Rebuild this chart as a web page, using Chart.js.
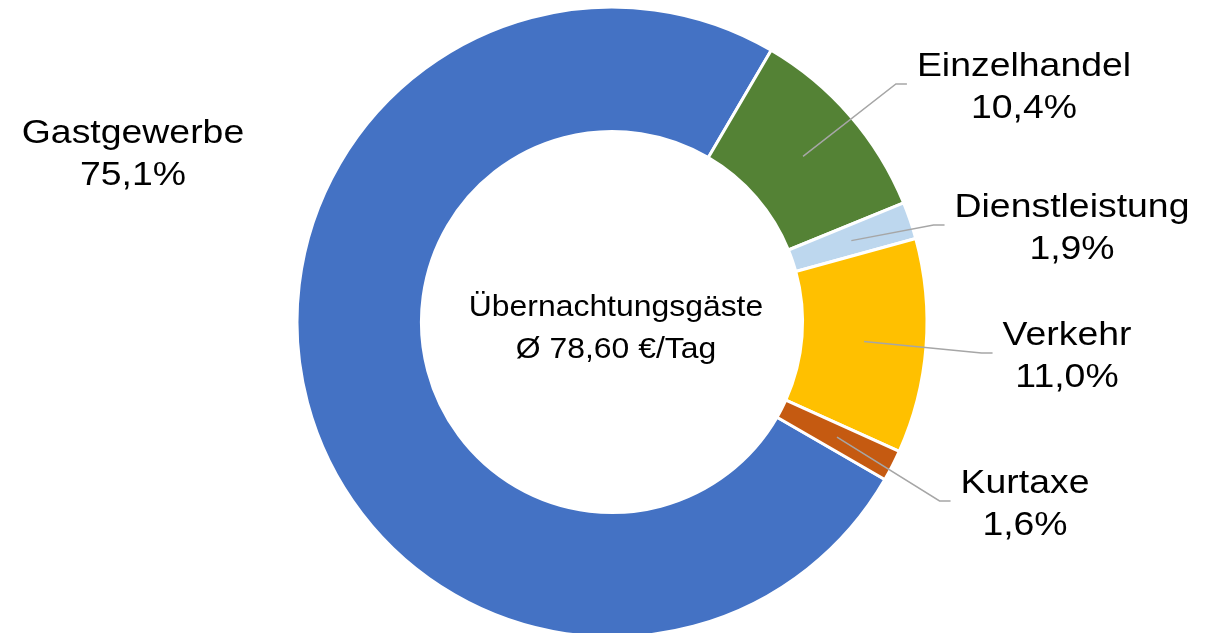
<!DOCTYPE html>
<html lang="de">
<head>
<meta charset="utf-8">
<title>Ausgaben der Übernachtungsgäste</title>
<script src="https://cdn.jsdelivr.net/npm/chart.js@4.4.1/dist/chart.umd.min.js"></script>
<style>
  html, body {
    margin: 0;
    padding: 0;
    background: #fff;
    width: 1208px;
    height: 633px;
    overflow: hidden;
  }
  #wrap {
    position: relative;
    width: 1208px;
    height: 644px;
  }
</style>
</head>
<body>
<div id="wrap"><canvas id="donut"></canvas></div>
<script>
// data
const categories = ["Gastgewerbe", "Einzelhandel", "Dienstleistung", "Verkehr", "Kurtaxe"];
const shares = [75.1, 10.4, 1.9, 11.0, 1.6];
const sliceColors = ["#4472C4", "#548235", "#BDD7EE", "#FFC000", "#C55A11"];
const centerLines = ["Übernachtungsgäste", "Ø 78,60 €/Tag"];

// where each label block sits (center x, first baseline), same order as categories
const labelSpots = [
  { x: 133, y: 143, leader: false },
  { x: 1024, y: 76, leader: true },
  { x: 1072, y: 217, leader: true },
  { x: 1067, y: 345, leader: true },
  { x: 1025, y: 493, leader: true },
];

const FONT = '"Liberation Sans", Arial, sans-serif';
const STRETCH = 1.1; // text is a bit wider than the plain font
const LINE_GAP = 42;

function pct(v) {
  return v.toFixed(1).replace(".", ",") + "%";
}

function wideText(ctx, str, x, y, size) {
  ctx.save();
  ctx.translate(x, y);
  ctx.scale(STRETCH, 1);
  ctx.font = size + "px " + FONT;
  ctx.textAlign = "center";
  ctx.textBaseline = "alphabetic";
  ctx.fillStyle = "#000";
  ctx.fillText(str, 0, 0);
  ctx.restore();
}

function textWidth(ctx, str, size) {
  ctx.save();
  ctx.font = size + "px " + FONT;
  const w = ctx.measureText(str).width * STRETCH;
  ctx.restore();
  return w;
}

// labels, leader lines and the text in the hole
const donutText = {
  id: "donutText",
  afterDraw(chart) {
    const ctx = chart.ctx;
    const arcs = chart.getDatasetMeta(0).data;

    categories.forEach((name, i) => {
      const spot = labelSpots[i];
      const lines = [name, pct(shares[i])];

      if (spot.leader) {
        const w = Math.max(textWidth(ctx, lines[0], 34), textWidth(ctx, lines[1], 34));
        const endX = spot.x - w / 2 - 10;
        const endY = spot.y + 8;
        const from = arcs[i].getCenterPoint();
        ctx.save();
        ctx.strokeStyle = "#A6A6A6";
        ctx.lineWidth = 1.5;
        ctx.beginPath();
        ctx.moveTo(from.x, from.y);
        ctx.lineTo(endX - 11, endY);
        ctx.lineTo(endX, endY);
        ctx.stroke();
        ctx.restore();
      }

      lines.forEach((txt, k) => wideText(ctx, txt, spot.x, spot.y + k * LINE_GAP, 34));
    });

    centerLines.forEach((txt, k) => wideText(ctx, txt, 616, 316 + k * LINE_GAP, 29));
  },
};

new Chart(document.getElementById("donut"), {
  type: "doughnut",
  data: {
    labels: categories,
    datasets: [
      {
        data: shares,
        backgroundColor: sliceColors,
        borderColor: "#fff",
        borderWidth: 3,
      },
    ],
  },
  options: {
    responsive: true,
    maintainAspectRatio: false,
    animation: false,
    events: [],
    rotation: 120,
    radius: 315,
    cutout: "60.5%",
    layout: {
      padding: { left: 16, right: 0, top: 0, bottom: 0 },
    },
    plugins: {
      legend: { display: false },
      tooltip: { enabled: false },
    },
  },
  plugins: [donutText],
});
</script>
</body>
</html>
